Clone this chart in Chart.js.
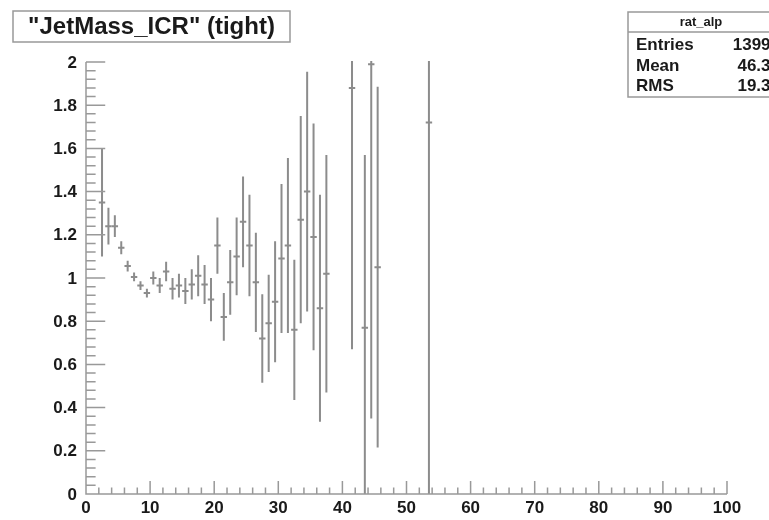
<!DOCTYPE html>
<html>
<head>
<meta charset="utf-8">
<script src="https://cdn.jsdelivr.net/npm/chart.js@4"></script>
<style>
  html, body { margin: 0; padding: 0; background: #fff; }
  #wrap { width: 769px; height: 520px; }
</style>
</head>
<body>
<div id="wrap"><canvas id="hist" width="769" height="520"></canvas></div>
<script>
// rat_alp: ratio per alpha bin (bin width 1), with statistical errors
const binCenters = [2.5, 3.5, 4.5, 5.5, 6.5, 7.5, 8.5, 9.5, 10.5, 11.5, 12.5, 13.5, 14.5, 15.5, 16.5, 17.5,
  18.5, 19.5, 20.5, 21.5, 22.5, 23.5, 24.5, 25.5, 26.5, 27.5, 28.5, 29.5, 30.5, 31.5, 32.5, 33.5,
  34.5, 35.5, 36.5, 37.5, 41.5, 43.5, 44.5, 45.5, 53.5];
const ratios = [1.35, 1.24, 1.24, 1.14, 1.055, 1.005, 0.965, 0.93, 1.0, 0.965, 1.03, 0.95, 0.965, 0.94, 0.97, 1.01,
  0.97, 0.90, 1.15, 0.82, 0.98, 1.10, 1.26, 1.15, 0.98, 0.72, 0.79, 0.89, 1.09, 1.15, 0.76, 1.27,
  1.40, 1.19, 0.86, 1.02, 1.88, 0.77, 1.99, 1.05, 1.72];
const errors = [0.25, 0.085, 0.05, 0.03, 0.025, 0.02, 0.02, 0.02, 0.03, 0.035, 0.045, 0.05, 0.055, 0.06, 0.07, 0.095,
  0.09, 0.10, 0.13, 0.11, 0.15, 0.18, 0.21, 0.235, 0.23, 0.205, 0.225, 0.28, 0.345, 0.405, 0.325, 0.48,
  0.555, 0.525, 0.525, 0.55, 1.21, 0.80, 1.64, 0.835, 1.75];
const binWidth = 1;

const xTickLabels = ["0", "10", "20", "30", "40", "50", "60", "70", "80", "90", "100"];
const yTickLabels = ["0", "0.2", "0.4", "0.6", "0.8", "1", "1.2", "1.4", "1.6", "1.8", "2"];

const histTitle = '"JetMass_ICR" (tight)';
const statsName = "rat_alp";
const statsRows = [["Entries", "13996"], ["Mean", "46.35"], ["RMS", "19.35"]];

const lineGray = "#8c8c8c";
const frameGray = "#999";
const sans = "'Liberation Sans', Arial, Helvetica, sans-serif";
const labelFont = "bold 17px " + sans;

// error bars + bin-width marks, ROOT "E" style
const errorBars = {
  id: "errorBars",
  afterDatasetsDraw(chart) {
    const { ctx, chartArea: a, scales: { x, y } } = chart;
    ctx.save();
    ctx.beginPath();
    ctx.rect(a.left, a.top - 1, a.right - a.left, a.bottom - a.top + 1);
    ctx.clip();
    ctx.strokeStyle = lineGray;
    ctx.lineWidth = 2;
    binCenters.forEach((bx, i) => {
      const px = x.getPixelForValue(bx);
      const py = y.getPixelForValue(ratios[i]);
      ctx.beginPath();
      ctx.moveTo(px, y.getPixelForValue(ratios[i] + errors[i]));
      ctx.lineTo(px, y.getPixelForValue(ratios[i] - errors[i]));
      ctx.moveTo(x.getPixelForValue(bx - binWidth / 2), py);
      ctx.lineTo(x.getPixelForValue(bx + binWidth / 2), py);
      ctx.stroke();
    });
    ctx.restore();
  }
};

// axes with inner ticks, labels, title and stats boxes
const rootFrame = {
  id: "rootFrame",
  afterDraw(chart) {
    const { ctx, chartArea: a, scales: { x, y } } = chart;
    const plotW = a.right - a.left, plotH = a.bottom - a.top;
    const yMajor = 0.03 * plotW, xMajor = 0.03 * plotH;
    ctx.save();
    ctx.strokeStyle = frameGray;
    ctx.lineWidth = 1.5;
    ctx.beginPath();
    ctx.moveTo(a.left, a.top);
    ctx.lineTo(a.left, a.bottom);
    ctx.lineTo(a.right, a.bottom);
    // y ticks: major every 0.2, 5 subdivisions
    for (let k = 0; k <= 50; k++) {
      const py = y.getPixelForValue(k * 0.04);
      const len = k % 5 === 0 ? yMajor : yMajor / 2;
      ctx.moveTo(a.left, py);
      ctx.lineTo(a.left + len, py);
    }
    // x ticks: major every 10, 5 subdivisions
    for (let k = 0; k <= 50; k++) {
      const px = x.getPixelForValue(k * 2);
      const len = k % 5 === 0 ? xMajor : xMajor / 2;
      ctx.moveTo(px, a.bottom);
      ctx.lineTo(px, a.bottom - len);
    }
    ctx.stroke();

    ctx.fillStyle = "#1a1a1a";
    ctx.font = labelFont;
    ctx.textAlign = "right";
    ctx.textBaseline = "middle";
    yTickLabels.forEach((t, i) => {
      ctx.fillText(t, a.left - 9, y.getPixelForValue(i * 0.2) + 1);
    });
    ctx.textAlign = "center";
    ctx.textBaseline = "top";
    xTickLabels.forEach((t, i) => {
      ctx.fillText(t, x.getPixelForValue(i * 10), a.bottom + 6);
    });

    // title box
    ctx.fillStyle = "#fff";
    ctx.fillRect(13, 11, 277, 31);
    ctx.strokeRect(13, 11, 277, 31);
    ctx.fillStyle = "#1a1a1a";
    ctx.font = "bold 24px " + sans;
    ctx.textBaseline = "middle";
    ctx.fillText(histTitle, 151.5, 27.5);

    // stats box, runs past the right edge
    ctx.fillStyle = "#fff";
    ctx.fillRect(628, 12, 150, 85);
    ctx.strokeRect(628, 12, 150, 85);
    ctx.beginPath();
    ctx.moveTo(628, 32);
    ctx.lineTo(778, 32);
    ctx.stroke();
    ctx.fillStyle = "#1a1a1a";
    ctx.font = "bold 13px " + sans;
    ctx.textAlign = "center";
    ctx.fillText(statsName, 701, 22.5);
    ctx.font = "bold 17px " + sans;
    statsRows.forEach(([k, v], i) => {
      const ty = 45.5 + i * 20.5;
      ctx.textAlign = "left";
      ctx.fillText(k, 636, ty);
      ctx.textAlign = "right";
      ctx.fillText(v, 780, ty);
    });
    ctx.restore();
  }
};

const axisOpts = (min, max, step) => ({
  type: "linear",
  min: min,
  max: max,
  ticks: { display: false, stepSize: step },
  grid: { display: false, drawTicks: false },
  border: { display: false }
});

new Chart(document.getElementById("hist").getContext("2d"), {
  type: "scatter",
  data: {
    datasets: [
      {
        label: statsName,
        data: binCenters.map((bx, i) => ({ x: bx, y: ratios[i] })),
        pointRadius: 0,
        showLine: false
      }
    ]
  },
  options: {
    responsive: false,
    animation: false,
    layout: { padding: { left: 86, right: 42, top: 62, bottom: 26 } },
    scales: {
      x: axisOpts(0, 100, 10),
      y: axisOpts(0, 2, 0.2)
    },
    plugins: { legend: { display: false }, tooltip: { enabled: false } }
  },
  plugins: [errorBars, rootFrame]
});
</script>
</body>
</html>
